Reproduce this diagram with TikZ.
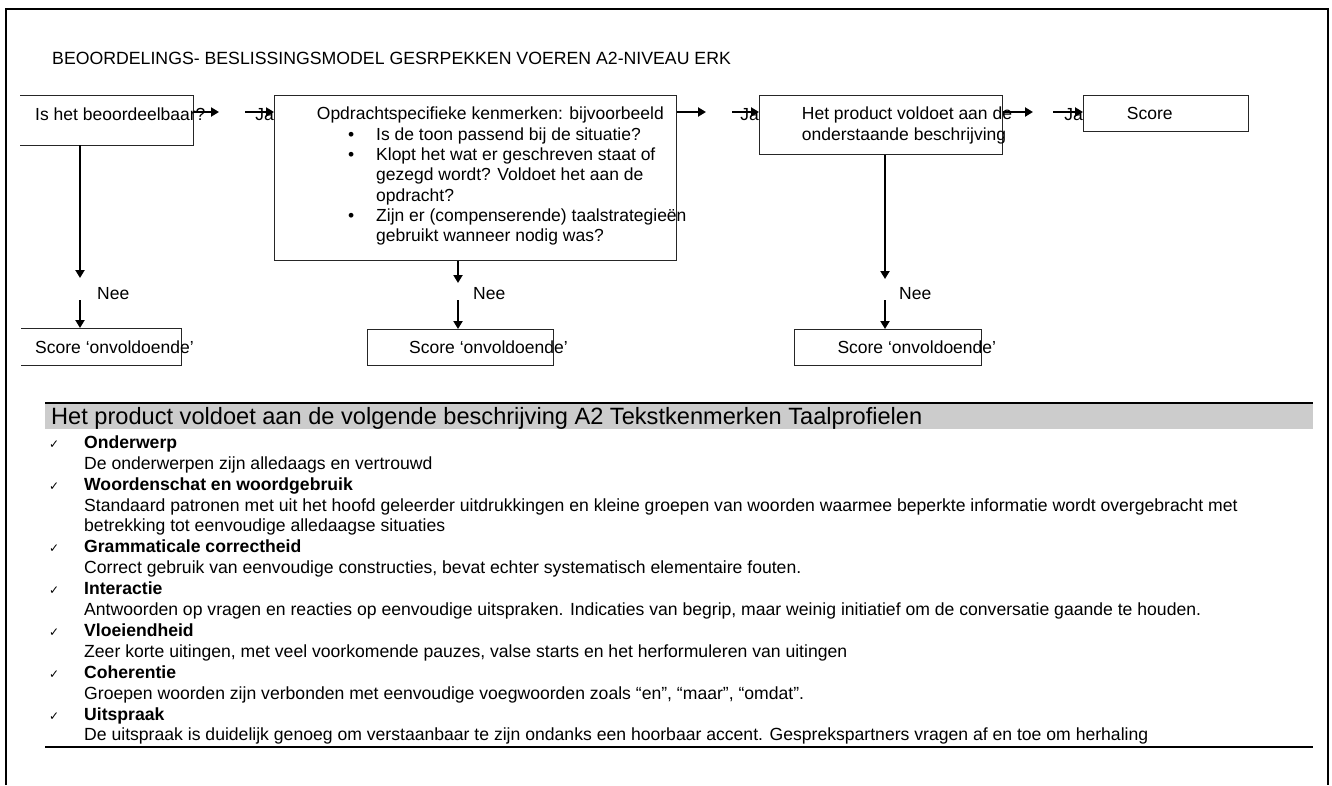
\documentclass[tikz,border=0pt]{standalone}
\usepackage{fontspec}
\setmainfont{Liberation Sans}
\newfontfamily\symbolfont{DejaVu Sans}
\usetikzlibrary{arrows.meta}

\begin{document}
\begin{tikzpicture}[x=1pt,y=-1pt,
    >={Triangle[length=8pt,width=9pt]},
    box/.style={draw=black!85,line width=1pt,inner sep=0pt,anchor=north west},
    txt/.style={inner sep=0pt,anchor=base west,font=\fontsize{17.5}{20}\selectfont},
    item/.style={inner sep=0pt,anchor=base west,font=\fontsize{17.6}{21}\selectfont},
    flow/.style={->,line width=2pt}]
  \useasboundingbox (0,0) rectangle (1332,785);
  % page frame
  \draw[line width=2pt] (6,785) -- (6,9) -- (1328,9) -- (1328,785);
  \node[txt,font=\fontsize{17.7}{20}\selectfont] (title) at (52,64.3)
    {BEOORDELINGS- BESLISSINGSMODEL GESRPEKKEN VOEREN A2-NIVEAU ERK};

  % boxes, top row
  \node[box,draw=none,minimum width=172,minimum height=49] (q1) at (20,95) {};
  \draw[draw=black!85,line width=1pt] (q1.north west) -- (q1.north east) -- (q1.south east) -- (q1.south west);
  \node[box,minimum width=402,minimum height=165] (q2) at (274,95) {};
  \node[box,minimum width=243,minimum height=59] (q3) at (759,95) {};
  \node[box,minimum width=165,minimum height=36] (score) at (1083,95) {};
  % boxes, bottom row
  \node[box,draw=none,minimum width=159,minimum height=36] (fail1) at (21,328) {};
  \draw[draw=black!85,line width=1pt] (fail1.north west) -- (fail1.north east) -- (fail1.south east) -- (fail1.south west);
  \node[box,minimum width=186,minimum height=36] (fail2) at (367,329) {};
  \node[box,minimum width=187,minimum height=36] (fail3) at (794,329) {};

  % texts in the boxes
  \node[txt] (q1text) at (35,120.6) {Is het beoordeelbaar?};
  \node[txt] (q2text) at (316.7,119.8) {Opdrachtspecifieke kenmerken: bijvoorbeeld};
  \foreach \i/\t in {1/{Is de toon passend bij de situatie?},
                     2/{Klopt het wat er geschreven staat of},
                     3/{gezegd wordt? Voldoet het aan de},
                     4/{opdracht?},
                     5/{Zijn er (compenserende) taalstrategieën},
                     6/{gebruikt wanneer nodig was?}}
    \node[txt] (q2line\i) at (376,{119.8+20.3*\i}) {\t};
  \foreach \i in {1,2,5}
    \node[txt] (bul\i) at (348,{119.8+20.3*\i}) {\textbullet};
  \node[txt] (q3text) at (801.7,119.8) {Het product voldoet aan de};
  \node[txt] (q3text2) at (801.7,140.1) {onderstaande beschrijving};
  \node[txt] (scoretext) at (1126.7,119.6) {Score};
  \node[txt] (fail1text) at (35,353.3) {Score ‘onvoldoende’};
  \node[txt] (fail2text) at (409,353.3) {Score ‘onvoldoende’};
  \node[txt] (fail3text) at (837.3,353.3) {Score ‘onvoldoende’};

  % Ja arrows
  \coordinate (a1) at (219,112); \coordinate (b1) at (245,112);
  \coordinate (a2) at (706,112); \coordinate (b2) at (732,112);
  \coordinate (a3) at (1033,112); \coordinate (b3) at (1053,112);
  \node[txt,anchor=base east] (ja1) at (q2.west |- 0,120) {Ja};
  \node[txt,anchor=base east] (ja2) at (q3.west |- 0,120) {Ja};
  \node[txt,anchor=base east] (ja3) at (score.west |- 0,120) {Ja};
  \draw[flow] (q1.east |- a1) -- (a1);
  \draw[flow] (b1) -- (q2.west |- b1);
  \draw[flow] (q2.east |- a2) -- (a2);
  \draw[flow] (b2) -- (q3.west |- b2);
  \draw[flow] (q3.east |- a3) -- (a3);
  \draw[flow] (b3) -- (score.west |- b3);

  % Nee arrows
  \coordinate (n1a) at (80,278); \coordinate (n1b) at (80,300);
  \coordinate (n2a) at (458,283); \coordinate (n2b) at (458,300);
  \coordinate (n3a) at (885,279); \coordinate (n3b) at (885,300);
  \draw[flow] (n1a |- q1.south) -- (n1a);
  \draw[flow] (n1b) -- (n1b |- fail1.north);
  \draw[flow] (n2a |- q2.south) -- (n2a);
  \draw[flow] (n2b) -- (n2b |- fail2.north);
  \draw[flow] (n3a |- q3.south) -- (n3a);
  \draw[flow] (n3b) -- (n3b |- fail3.north);
  \node[txt] (nee1) at (97,299) {Nee};
  \node[txt] (nee2) at (473,299) {Nee};
  \node[txt] (nee3) at (899,299) {Nee};

  % description table
  \fill[black!20] (45,403) rectangle (1313,429);
  \draw[line width=2pt] (45,403) -- (1313,403);
  \node[txt,font=\fontsize{23.6}{26}\selectfont] (head) at (51,424.5)
    {Het product voldoet aan de volgende beschrijving A2 Tekstkenmerken Taalprofielen};
  \foreach \i/\t in {0/Onderwerp, 2/Woordenschat en woordgebruik,
                     5/Grammaticale correctheid, 7/Interactie, 9/Vloeiendheid,
                     11/Coherentie, 13/Uitspraak} {
    \node[item,font=\fontsize{12}{14}\symbolfont] (tick\i) at (49,{448.3+20.9*\i}) {✓};
    \node[item,font=\fontsize{17.6}{21}\selectfont\bfseries] (hd\i) at (84,{448.3+20.9*\i}) {\t};
  }
  \foreach \i/\t in {1/{De onderwerpen zijn alledaags en vertrouwd},
    3/{Standaard patronen met uit het hoofd geleerder uitdrukkingen en kleine groepen van woorden waarmee beperkte informatie wordt overgebracht met},
    4/{betrekking tot eenvoudige alledaagse situaties},
    6/{Correct gebruik van eenvoudige constructies, bevat echter systematisch elementaire fouten.},
    8/{Antwoorden op vragen en reacties op eenvoudige uitspraken. Indicaties van begrip, maar weinig initiatief om de conversatie gaande te houden.},
    10/{Zeer korte uitingen, met veel voorkomende pauzes, valse starts en het herformuleren van uitingen},
    12/{Groepen woorden zijn verbonden met eenvoudige voegwoorden zoals “en”, “maar”, “omdat”.},
    14/{De uitspraak is duidelijk genoeg om verstaanbaar te zijn ondanks een hoorbaar accent. Gesprekspartners vragen af en toe om herhaling}}
    \node[item] (ds\i) at (84,{448.3+20.9*\i}) {\t};
  \draw[line width=2pt] (45,747) -- (1313,747);
\end{tikzpicture}
\end{document}
